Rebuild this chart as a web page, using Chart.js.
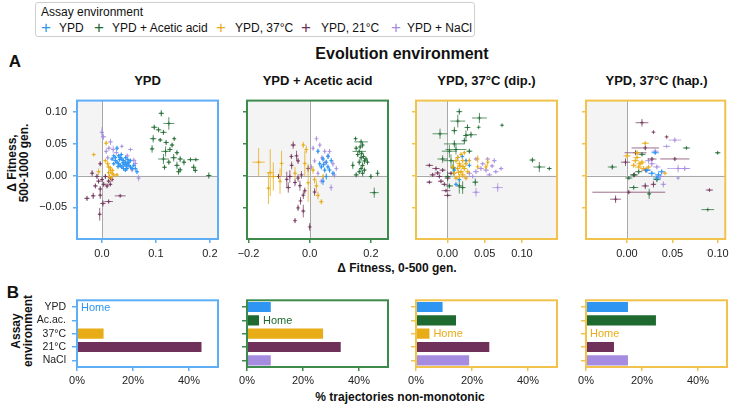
<!DOCTYPE html>
<html>
<head>
<meta charset="utf-8">
<script src="https://cdn.jsdelivr.net/npm/chart.js@4.4.0/dist/chart.umd.min.js"></script>
<style>
  body { margin: 0; width: 731px; height: 404px; position: relative; background: #fff; overflow: hidden;
         font-family: 'Liberation Sans', Arial, sans-serif; color: #111; }
  canvas { position: absolute; }
  .t { position: absolute; white-space: nowrap; transform: translate(-50%, -50%); }
  .b { font-weight: bold; }
  .rot { position: absolute; white-space: nowrap; transform: translate(-50%, -50%) rotate(-90deg);
         text-align: center; font-weight: bold; font-size: 12px; line-height: 11.5px; }
  #legend { position: absolute; left: 35px; top: 2px; width: 438px; height: 33px; border: 1px solid #cfcfcf;
            border-radius: 3px; font-size: 12px; }
  #legend span { position: absolute; white-space: nowrap; }
  #legend .plus { font-size: 17px; font-weight: 300; transform: translate(-50%, -50%); top: 25px; }
  #legend .lab { top: 18px; }
</style>
</head>
<body>

<div id="legend">
  <span style="left:5px;top:2px">Assay environment</span>
</div>

<div class="t b" style="left:15px;top:62px;font-size:17px">A</div>
<div class="t b" style="left:13px;top:293px;font-size:17px">B</div>
<div class="t b" style="left:402px;top:54px;font-size:16px">Evolution environment</div>
<div class="rot" style="left:18px;top:163px">Δ Fitness,<br>500-1000 gen.</div>
<div class="t b" style="left:397px;top:268px;font-size:12px">Δ Fitness, 0-500 gen.</div>
<div class="rot" style="left:22px;top:331px">Assay<br>environment</div>
<div class="t b" style="left:400px;top:397px;font-size:12px">% trajectories non-monotonic</div>

<script>
// ---- data ----
const assayNames = ['YPD', 'YPD + Acetic acid', 'YPD, 37°C', 'YPD, 21°C', 'YPD + NaCl'];
const assayShort = ['YPD', 'Ac.ac.', '37°C', '21°C', 'NaCl'];
const evoTitles = ['YPD', 'YPD + Acetic acid', 'YPD, 37°C (dip.)', 'YPD, 37°C (hap.)'];
const homeIndex = [0, 1, 2, 2];

const yTicks = [-0.05, 0, 0.05, 0.10];
const xTicks1 = [0, 0.1, 0.2];
const xTicks2 = [-0.2, 0, 0.2];
const xTicks3 = [0, 0.05, 0.1];
const xTicks4 = [0, 0.05, 0.1];
const barTicks = [0, 20, 40];

// % trajectories non-monotonic, order of assayShort
const bars1 = [0, 0, 9.5, 44.5, 0];
const bars2 = [8.5, 4.3, 27.2, 33.5, 8.5];
const bars3 = [9.5, 14.3, 4.8, 26.2, 19];
const bars4 = [15, 25, 0, 10, 15];

// scatter points: [dFit 0-500, dFit 500-1000, err x, err y]
// evolved in YPD
const p1_ypd = [[0.028,0.043,0.003,0.004],[0.019,0.026,0.003,0.003],[0.022,0.031,0.002,0.002],[0.025,0.028,0.003,0.003],
  [0.031,0.031,0.003,0.003],[0.034,0.028,0.003,0.003],[0.037,0.026,0.003,0.003],[0.040,0.0235,0.003,0.003],
  [0.0435,0.021,0.003,0.003],[0.0466,0.0185,0.003,0.003],[0.050,0.016,0.003,0.003],[0.053,0.0135,0.003,0.003],
  [0.056,0.011,0.003,0.003],[0.028,0.021,0.003,0.003],[0.031,0.0185,0.003,0.003],[0.034,0.016,0.003,0.003],
  [0.037,0.0135,0.003,0.003],[0.040,0.011,0.003,0.003],[0.0435,0.0085,0.003,0.003],[0.0466,0.011,0.003,0.003],
  [0.050,0.021,0.003,0.003],[0.053,0.0235,0.003,0.003],[0.059,0.016,0.003,0.003],[0.062,0.011,0.003,0.003],
  [0.065,0.006,0.003,0.004],[0.025,0.0235,0.003,0.003],[0.033,0.025,0.003,0.003],[0.039,0.020,0.003,0.003],
  [0.045,0.015,0.003,0.003],[0.022,0.0185,0.003,0.003],[0.036,0.033,0.003,0.003],[0.044,0.028,0.003,0.003],
  [0.048,0.025,0.003,0.003],[0.041,0.017,0.003,0.003],[0.030,0.014,0.003,0.003]];
const p1_acid = [[0.110,0.098,0.005,0.005],[0.124,0.082,0.010,0.010],[0.097,0.076,0.006,0.004],[0.105,0.072,0.005,0.004],
  [0.114,0.068,0.006,0.004],[0.095,0.058,0.006,0.006],[0.134,0.058,0.003,0.003],[0.108,0.056,0.004,0.003],
  [0.119,0.052,0.005,0.004],[0.130,0.048,0.004,0.004],[0.093,0.042,0.004,0.006],[0.118,0.038,0.008,0.008],
  [0.126,0.041,0.005,0.004],[0.139,0.036,0.004,0.004],[0.114,0.026,0.010,0.008],[0.133,0.028,0.006,0.006],
  [0.145,0.026,0.005,0.005],[0.152,0.021,0.004,0.005],[0.164,0.025,0.006,0.003],[0.174,0.025,0.006,0.002],
  [0.116,0.013,0.004,0.004],[0.139,0.016,0.005,0.006],[0.142,0.006,0.004,0.005],[0.145,0.009,0.004,0.004],
  [0.170,0.013,0.005,0.005],[0.173,0.008,0.004,0.004],[0.198,0.000,0.005,0.005],[0.124,0.021,0.004,0.004]];
const p1_hot = [[0.008,0.051,0.003,0.004],[-0.015,0.033,0.002,0.002],[-0.006,0.006,0.003,0.005],[0.0126,0.0135,0.004,0.004],
  [0.0157,0.0085,0.003,0.004],[0.0188,0.0036,0.003,0.004],[0.0145,-0.0015,0.003,0.003],[0.0176,-0.004,0.003,0.003],
  [0.022,0.001,0.003,0.003],[0.0126,0.0045,0.003,0.004],[0.028,0.001,0.003,0.003],[0.0065,0.0234,0.003,0.003],
  [0.0108,0.0186,0.004,0.004],[0.016,0.012,0.003,0.003],[0.020,0.008,0.003,0.003]];
const p1_cold = [[-0.003,0.0185,0.003,0.004],[-0.018,0.0036,0.003,0.005],[-0.009,-0.0014,0.004,0.004],[-0.006,-0.0089,0.004,0.004],
  [0.0003,-0.0064,0.003,0.004],[0.0034,-0.0139,0.004,0.004],[-0.012,-0.0164,0.004,0.004],[-0.003,-0.0213,0.003,0.005],
  [0.0096,-0.0164,0.003,0.004],[0.0157,-0.0139,0.003,0.003],[0.0126,-0.0089,0.003,0.003],[0.0188,-0.0064,0.003,0.003],
  [-0.0275,-0.036,0.005,0.004],[-0.016,-0.032,0.004,0.005],[-0.003,-0.031,0.003,0.006],[0.002,-0.044,0.005,0.005],
  [0.0126,-0.041,0.008,0.003],[0.034,-0.032,0.010,0.002],[-0.004,-0.061,0.003,0.010],[0.0065,-0.0015,0.003,0.004],
  [0.016,-0.004,0.003,0.003],[0.014,-0.002,0.003,0.003]];
const p1_nacl = [[0.000,0.068,0.004,0.008],[0.003,0.061,0.005,0.005],[0.016,0.053,0.004,0.005],[0.013,0.043,0.005,0.004],
  [0.021,0.041,0.004,0.006],[0.037,0.046,0.002,0.002],[0.053,0.041,0.004,0.002],[0.059,0.024,0.005,0.004],
  [0.062,0.019,0.004,0.005],[0.056,0.009,0.004,0.004],[0.068,-0.004,0.003,0.005],[0.047,0.031,0.004,0.004],
  [0.008,0.038,0.003,0.004],[0.011,0.028,0.003,0.004],[0.027,0.036,0.004,0.003]];

// evolved in YPD + Acetic acid
const p2_ypd = [[0.0327,0.0185,0.004,0.004],[0.0435,0.026,0.004,0.004],[0.0543,0.021,0.004,0.004],[0.0597,0.0135,0.004,0.004],
  [0.049,0.0085,0.004,0.004],[0.065,0.0085,0.004,0.004],[0.038,0.0135,0.004,0.004],[0.0705,0.0234,0.004,0.004],
  [0.0543,-0.0015,0.003,0.005],[0.0435,-0.009,0.003,0.006],[0.076,0.0035,0.004,0.004],[0.027,0.0383,0.004,0.004],
  [0.045,0.017,0.004,0.004],[0.060,0.030,0.004,0.004]];
const p2_acid = [[0.168,0.053,0.022,0.004],[0.162,0.038,0.022,0.003],[0.152,0.043,0.006,0.004],[0.173,0.048,0.005,0.005],
  [0.157,0.033,0.006,0.004],[0.168,0.028,0.006,0.006],[0.179,0.023,0.006,0.005],[0.162,0.021,0.006,0.005],
  [0.173,0.016,0.006,0.005],[0.168,0.011,0.006,0.005],[0.179,0.0085,0.006,0.004],[0.162,0.006,0.006,0.004],
  [0.173,0.0035,0.006,0.005],[0.152,0.001,0.008,0.004],[0.184,0.026,0.006,0.004],[0.189,0.021,0.005,0.004],
  [0.141,0.016,0.004,0.006],[0.200,-0.0015,0.004,0.004],[0.222,0.0035,0.004,0.005],[0.211,-0.027,0.015,0.008],
  [0.150,0.058,0.004,0.003],[0.165,0.045,0.005,0.004],[0.170,0.035,0.005,0.004],[0.176,0.030,0.005,0.004]];
const p2_hot = [[-0.167,0.021,0.020,0.022],[-0.129,0.0045,0.012,0.037],[-0.119,-0.0015,0.012,0.022],[-0.092,0.019,0.004,0.020],
  [-0.097,-0.009,0.004,0.020],[-0.021,0.048,0.004,0.005],[-0.011,0.041,0.004,0.006],[-0.016,0.019,0.004,0.020],
  [-0.005,-0.0114,0.004,0.030],[0.011,0.0085,0.005,0.006],[0.022,-0.0164,0.005,0.008],[0.027,-0.0313,0.005,0.006],
  [0.038,-0.0413,0.006,0.004],[0.016,-0.0065,0.004,0.006],[0.044,-0.0015,0.004,0.004],[-0.048,0.0035,0.004,0.010],
  [-0.135,-0.020,0.004,0.025]];
const p2_cold = [[-0.054,0.048,0.008,0.006],[-0.043,0.031,0.004,0.008],[-0.038,0.023,0.004,0.005],[-0.059,0.016,0.005,0.006],
  [-0.065,-0.0015,0.008,0.010],[-0.070,-0.019,0.008,0.008],[-0.048,-0.011,0.005,0.006],[-0.038,-0.004,0.004,0.006],
  [-0.027,0.001,0.004,0.006],[-0.032,-0.016,0.004,0.008],[-0.016,-0.024,0.004,0.005],[-0.021,-0.031,0.004,0.006],
  [-0.038,-0.051,0.003,0.005],[-0.021,-0.056,0.005,0.010],[-0.048,-0.071,0.002,0.004],[0.000,-0.081,0.002,0.006],
  [0.016,-0.026,0.004,0.006],[-0.102,-0.0015,0.004,0.004],[-0.075,-0.006,0.004,0.012],[-0.005,0.011,0.004,0.005],
  [-0.060,0.030,0.004,0.004],[-0.030,-0.040,0.003,0.006]];
const p2_nacl = [[0.022,0.058,0.003,0.004],[0.033,0.048,0.003,0.004],[0.011,0.043,0.003,0.004],[0.065,0.038,0.004,0.004],
  [0.076,0.0185,0.004,0.005],[0.081,0.001,0.003,0.005],[0.060,0.031,0.004,0.004],[0.016,0.023,0.003,0.004],
  [0.027,0.0035,0.003,0.004],[0.087,0.011,0.003,0.004],[0.038,-0.009,0.003,0.004],[0.070,-0.019,0.003,0.005],
  [0.049,0.038,0.004,0.004],[0.0054,0.0135,0.003,0.004],[0.050,0.020,0.004,0.004],[0.040,0.028,0.004,0.004]];

// evolved in YPD, 37°C (diploid)
const p3_ypd = [[0.0139,0.0284,0.002,0.003],[0.025,0.0234,0.002,0.003],[0.0161,-0.0064,0.002,0.003],[0.0094,0.0085,0.002,0.003],
  [0.0295,0.016,0.002,0.003],[0.0116,-0.0139,0.002,0.003],[0.020,0.030,0.002,0.003]];
const p3_acid = [[0.016,0.1006,0.004,0.005],[0.043,0.0906,0.010,0.008],[0.014,0.0857,0.010,0.010],[-0.0098,0.0657,0.010,0.008],
  [0.027,0.0757,0.004,0.005],[0.0094,0.0707,0.004,0.006],[0.0317,0.0642,0.008,0.005],[0.025,0.063,0.004,0.008],
  [0.0228,0.0548,0.004,0.005],[0.0094,0.0498,0.014,0.006],[0.0116,0.041,0.014,0.008],[0.0027,0.0383,0.010,0.010],
  [-0.0063,0.026,0.007,0.006],[0.0049,0.0234,0.010,0.010],[0.016,-0.0164,0.004,0.012],[0.0205,-0.019,0.004,0.010],
  [0.0027,-0.0164,0.005,0.004],[0.0375,-0.0105,0.004,0.006],[0.114,0.0244,0.004,0.004],[0.1233,0.0134,0.008,0.008],
  [0.1367,0.011,0.003,0.002],[0.0733,0.0792,0.001,0.001],[0.042,0.076,0.001,0.001],[0.0004,-0.0015,0.004,0.008],
  [0.0295,0.0383,0.004,0.004],[0.008,0.012,0.004,0.012]];
const p3_hot = [[0.0116,0.0234,0.003,0.004],[0.0161,0.0185,0.004,0.005],[0.0139,0.011,0.003,0.004],[0.0183,0.006,0.004,0.004],
  [0.0206,0.001,0.004,0.005],[0.0094,0.0035,0.003,0.004],[0.0161,-0.0015,0.004,0.004],[0.0228,0.011,0.004,0.004],
  [0.025,0.0185,0.003,0.004],[0.0139,0.0284,0.003,0.004],[0.0183,0.0333,0.002,0.003],[0.0228,0.0359,0.002,0.003],
  [0.025,-0.004,0.003,0.004],[0.0116,-0.004,0.003,0.004],[0.0071,0.0135,0.003,0.004],[0.0206,0.0234,0.003,0.004],
  [0.0273,0.006,0.003,0.004],[0.0407,0.0261,0.001,0.006],[0.0541,0.021,0.001,0.006],[0.0518,0.0135,0.001,0.005],
  [0.0407,0.0135,0.001,0.004],[0.0295,0.0234,0.002,0.004],[0.017,0.015,0.004,0.004],[0.015,0.005,0.004,0.004],
  [0.021,0.014,0.004,0.004]];
const p3_cold = [[-0.0241,0.016,0.005,0.002],[-0.0152,0.011,0.005,0.003],[-0.0063,0.0085,0.004,0.003],[-0.0197,0.001,0.004,0.003],
  [-0.0107,-0.0015,0.004,0.003],[0.0004,-0.004,0.004,0.003],[-0.0241,-0.0105,0.004,0.002],[-0.004,-0.0139,0.004,0.003],
  [-0.0018,-0.0239,0.006,0.002],[0.0004,-0.0313,0.005,0.002],[-0.0085,-0.009,0.004,0.003],[0.0049,0.0035,0.004,0.003],
  [-0.013,0.004,0.004,0.003]];
const p3_nacl = [[0.0384,0.026,0.003,0.003],[0.054,0.026,0.003,0.003],[0.063,0.0234,0.003,0.004],[0.0474,0.0185,0.003,0.003],
  [0.072,0.011,0.003,0.003],[0.065,0.006,0.004,0.003],[0.0563,0.001,0.004,0.003],[0.0384,0.006,0.004,0.004],
  [0.034,-0.0015,0.004,0.003],[0.0675,-0.019,0.007,0.007],[0.0384,-0.0264,0.005,0.007],[0.0451,0.011,0.004,0.004],
  [0.0518,0.0085,0.004,0.004],[0.0295,0.0035,0.004,0.004],[0.060,0.015,0.003,0.003]];

// evolved in YPD, 37°C (haploid)
const p4_ypd = [[0.031,0.0359,0.004,0.003],[0.0346,0.001,0.004,0.004],[0.0329,-0.004,0.004,0.004],[0.0273,0.0035,0.004,0.004],
  [0.0382,0.006,0.004,0.004],[0.0219,0.0085,0.004,0.004]];
const p4_acid = [[-0.0161,0.0134,0.005,0.004],[0.0653,0.0434,0.004,0.001],[0.0997,0.0358,0.003,0.002],[0.0165,0.0333,0.004,0.003],
  [0.0074,0.001,0.004,0.003],[0.002,-0.004,0.004,0.002],[0.0074,-0.0189,0.005,0.003],[0.0244,-0.0289,0.002,0.008],
  [0.0329,-0.0064,0.004,0.004],[0.0129,0.006,0.004,0.004],[0.0888,-0.0537,0.007,0.001]];
const p4_hot = [[0.0201,0.0508,0.004,0.003],[0.0002,0.0309,0.004,0.004],[0.0111,0.0358,0.003,0.004],[0.0092,0.0234,0.004,0.004],
  [0.0143,0.0185,0.004,0.004],[0.0074,0.016,0.003,0.004],[0.013,0.0134,0.004,0.004],[0.0183,0.011,0.004,0.004],
  [0.0237,0.0134,0.003,0.003],[0.0111,0.0284,0.004,0.003],[0.0165,0.021,0.004,0.004],[0.0418,0.0035,0.002,0.002]];
const p4_cold = [[0.0165,0.0832,0.007,0.006],[0.0291,0.0683,0.001,0.001],[0.0436,0.0608,0.001,0.001],[0.0201,0.0434,0.015,0.004],
  [0.0094,0.0358,0.012,0.004],[0.0526,0.0261,0.016,0.003],[0.0275,0.026,0.005,0.003],[-0.0016,0.021,0.005,0.006],
  [0.002,-0.0263,0.040,0.003],[-0.0125,-0.0373,0.006,0.006],[0.0201,-0.0164,0.004,0.005],[0.0291,-0.0139,0.003,0.005],
  [0.0906,-0.0229,0.004,0.001],[0.008,0.001,0.004,0.004],[0.0207,0.0085,0.005,0.004]];
const p4_nacl = [[0.0526,0.0558,0.007,0.004],[0.0436,0.0459,0.004,0.001],[0.031,0.0383,0.004,0.004],[0.0273,0.0185,0.004,0.005],
  [0.0562,0.011,0.012,0.006],[0.0635,0.011,0.006,0.004],[0.040,-0.0139,0.003,0.005],[0.0365,-0.0015,0.004,0.004],
  [0.0562,-0.004,0.001,0.001],[0.0329,0.0135,0.004,0.004],[0.0237,0.0234,0.004,0.004]];

// ---- style ----
const seriesColors = ['#2e95f2', '#1e6a30', '#e8ac16', '#6f3059', '#a68ce0'];
const seriesAlpha = ['rgba(46,149,242,0.85)', 'rgba(30,106,48,0.7)', 'rgba(232,172,22,0.8)', 'rgba(111,48,89,0.7)', 'rgba(166,140,224,0.7)'];
const frameColors = ['#5eaef5', '#3d8b4c', '#f1c34c', '#f1c34c'];
const panelLeft = [77, 247, 416, 586];
const panelW = 141;
const FONT = "'Liberation Sans', Arial, sans-serif";

Chart.defaults.font.family = FONT;
Chart.defaults.animation = false;

// legend
const leg = document.getElementById('legend');
const legPlus = [10, 63, 185, 270, 360];
const legLab = [23, 76, 199, 285, 371];
assayNames.forEach((n, i) => {
  leg.insertAdjacentHTML('beforeend',
    `<span class="plus" style="left:${legPlus[i]}px;color:${seriesColors[i]}">+</span>` +
    `<span class="lab" style="left:${legLab[i]}px">${n}</span>`);
});

// panel titles
evoTitles.forEach((t, i) => {
  document.body.insertAdjacentHTML('beforeend',
    `<div class="t b" style="left:${panelLeft[i] + panelW / 2}px;top:80px;font-size:13px">${t}</div>`);
});

function fmt(v, dec) {
  const s = Math.abs(v).toFixed(dec);
  return v < -1e-9 ? '\u2212' + s : s;
}

// shaded quadrants + zero lines
const quadrants = {
  id: 'quadrants',
  beforeDatasetsDraw(chart) {
    const { ctx, chartArea: a, scales: { x, y } } = chart;
    const x0 = x.getPixelForValue(0), y0 = y.getPixelForValue(0);
    ctx.save();
    ctx.fillStyle = '#f4f4f4';
    ctx.fillRect(a.left, a.top, x0 - a.left, y0 - a.top);
    ctx.fillRect(x0, y0, a.right - x0, a.bottom - y0);
    ctx.strokeStyle = '#a8a8a8';
    ctx.lineWidth = 1;
    ctx.beginPath();
    ctx.moveTo(Math.round(x0) + 0.5, a.top); ctx.lineTo(Math.round(x0) + 0.5, a.bottom);
    ctx.moveTo(a.left, Math.round(y0) + 0.5); ctx.lineTo(a.right, Math.round(y0) + 0.5);
    ctx.stroke();
    ctx.restore();
  }
};

// error bars drawn right after each dataset
const errorBars = {
  id: 'errorBars',
  afterDatasetDraw(chart, args) {
    const ds = chart.data.datasets[args.index];
    if (!ds.errs) return;
    const { ctx, chartArea: a, scales: { x, y } } = chart;
    ctx.save();
    ctx.beginPath();
    ctx.rect(a.left, a.top, a.width, a.height);
    ctx.clip();
    ctx.strokeStyle = ds.borderColor;
    ctx.lineWidth = 1;
    ds.data.forEach((p, i) => {
      const e = ds.errs[i];
      const px = x.getPixelForValue(p.x), py = y.getPixelForValue(p.y);
      ctx.beginPath();
      ctx.moveTo(x.getPixelForValue(p.x - e[0]), py);
      ctx.lineTo(x.getPixelForValue(p.x + e[0]), py);
      ctx.moveTo(px, y.getPixelForValue(p.y - e[1]));
      ctx.lineTo(px, y.getPixelForValue(p.y + e[1]));
      ctx.stroke();
    });
    ctx.restore();
  }
};

// coloured frame around each panel
const frame = {
  id: 'frame',
  afterDraw(chart, args, opts) {
    const { ctx, chartArea: a } = chart;
    ctx.save();
    ctx.strokeStyle = opts.color;
    ctx.lineWidth = 2;
    ctx.strokeRect(a.left, a.top, a.width, a.height);
    ctx.restore();
  }
};

// "Home" label on bar panels
const homeLabel = {
  id: 'homeLabel',
  afterDatasetsDraw(chart, args, opts) {
    const bar = chart.getDatasetMeta(0).data[opts.index];
    const { ctx } = chart;
    ctx.save();
    ctx.font = '11px ' + FONT;
    ctx.fillStyle = seriesColors[opts.index];
    ctx.textBaseline = 'middle';
    ctx.fillText('Home', bar.x + 4, bar.y + 0.5);
    ctx.restore();
  }
};

function makeCanvas(left, top, w, h) {
  const c = document.createElement('canvas');
  c.width = w; c.height = h;
  c.style.left = left + 'px'; c.style.top = top + 'px';
  c.style.width = w + 'px'; c.style.height = h + 'px';
  document.body.appendChild(c);
  return c;
}

const scatterSets = [
  [p1_ypd, p1_acid, p1_hot, p1_cold, p1_nacl],
  [p2_ypd, p2_acid, p2_hot, p2_cold, p2_nacl],
  [p3_ypd, p3_acid, p3_hot, p3_cold, p3_nacl],
  [p4_ypd, p4_acid, p4_hot, p4_cold, p4_nacl]
];
const xRanges = [[-0.046, 0.215], [-0.205, 0.256], [-0.042, 0.147], [-0.045, 0.108]];
const xTickSets = [xTicks1, xTicks2, xTicks3, xTicks4];
const xDec = [1, 1, 2, 2];
const barSets = [bars1, bars2, bars3, bars4];

for (let i = 0; i < 4; i++) {
  const fc = frameColors[i];

  // --- A: scatter ---
  const cv = makeCanvas(panelLeft[i] - 50, 88, panelW + 56, 176);
  new Chart(cv, {
    type: 'scatter',
    data: {
      datasets: scatterSets[i].map((pts, s) => ({
        label: assayNames[s],
        data: pts.map(p => ({ x: p[0], y: p[1] })),
        errs: pts.map(p => [p[2], p[3]]),
        borderColor: seriesAlpha[s],
        backgroundColor: seriesAlpha[s],
        pointStyle: 'cross',
        pointRadius: 2,
        borderWidth: 1,
        order: s === homeIndex[i] ? 0 : 1
      }))
    },
    options: {
      responsive: false,
      devicePixelRatio: 1,
      layout: { padding: { left: 0, top: 5, right: 6, bottom: 0 } },
      plugins: { legend: { display: false }, tooltip: { enabled: false }, frame: { color: fc } },
      scales: {
        x: {
          min: xRanges[i][0], max: xRanges[i][1],
          afterBuildTicks: s => { s.ticks = xTickSets[i].map(v => ({ value: v })); },
          afterFit: s => { s.height = 25; },
          grid: { drawOnChartArea: false, color: fc, tickLength: 4, lineWidth: 1.5 },
          border: { display: false },
          ticks: { color: '#222', font: { size: 11 }, padding: 4, maxRotation: 0, autoSkip: false,
                   callback: v => fmt(v, xDec[i]) }
        },
        y: {
          min: -0.1, max: 0.118,
          afterBuildTicks: s => { s.ticks = yTicks.map(v => ({ value: v })); },
          afterFit: s => { s.width = 50; },
          grid: { drawOnChartArea: false, color: fc, tickLength: 4, lineWidth: 1.5 },
          border: { display: false },
          ticks: { color: '#222', font: { size: 11 }, padding: 6, autoSkip: false,
                   callback: v => (i === 0 ? fmt(v, 2) : '') }
        }
      }
    },
    plugins: [quadrants, errorBars, frame]
  });

  // --- B: bars ---
  const bv = makeCanvas(panelLeft[i] - 62, 288, panelW + 68, 99);
  new Chart(bv, {
    type: 'bar',
    data: {
      labels: assayShort,
      datasets: [{
        data: barSets[i],
        backgroundColor: seriesColors,
        barPercentage: 0.76,
        categoryPercentage: 1
      }]
    },
    options: {
      indexAxis: 'y',
      responsive: false,
      devicePixelRatio: 1,
      layout: { padding: { left: 0, top: 5, right: 6, bottom: 0 } },
      plugins: { legend: { display: false }, tooltip: { enabled: false },
                 frame: { color: fc }, homeLabel: { index: homeIndex[i] } },
      scales: {
        x: {
          min: 0, max: 50.4,
          afterBuildTicks: s => { s.ticks = barTicks.map(v => ({ value: v })); },
          afterFit: s => { s.height = 20; },
          grid: { drawOnChartArea: false, color: fc, tickLength: 4, lineWidth: 1.5 },
          border: { display: false },
          ticks: { color: '#222', font: { size: 11 }, padding: 3, maxRotation: 0, autoSkip: false,
                   callback: v => v + '%' }
        },
        y: {
          afterFit: s => { s.width = 62; },
          grid: { drawOnChartArea: false, color: fc, tickLength: 5, lineWidth: 1.5, offset: false },
          border: { display: false },
          ticks: { color: '#222', font: { size: 10.5 }, padding: 6, autoSkip: false,
                   callback: (v, k) => (i === 0 ? assayShort[k] : '') }
        }
      }
    },
    plugins: [frame, homeLabel]
  });
}
</script>
</body>
</html>
